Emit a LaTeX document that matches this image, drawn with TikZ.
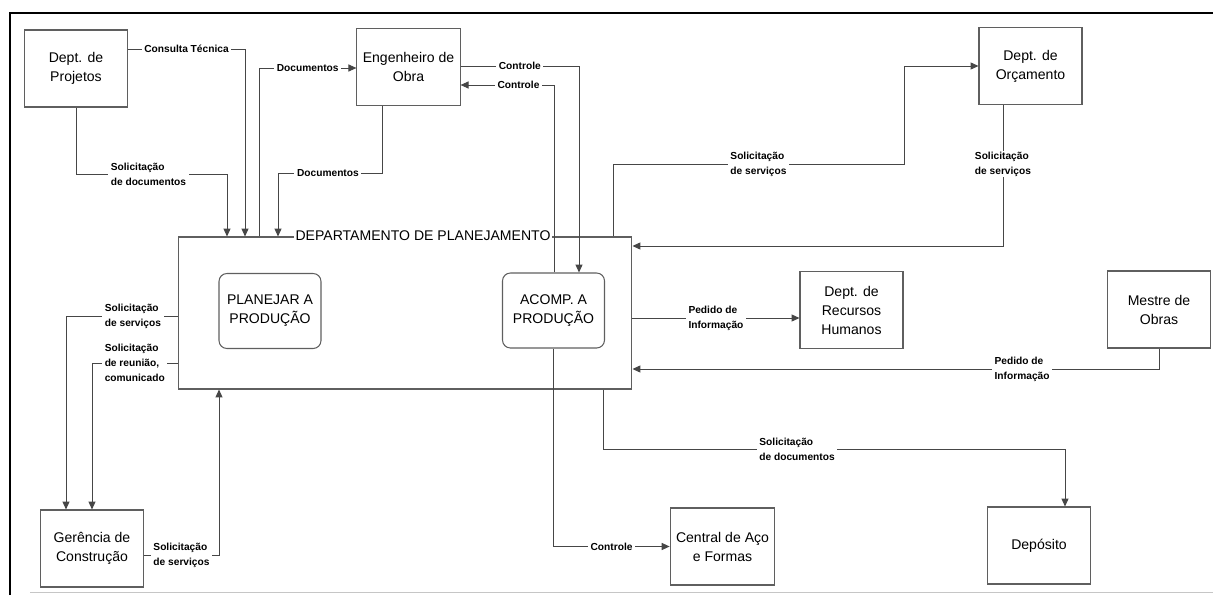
\documentclass[tikz,border=0pt]{standalone}
\usepackage{fontspec}
\setmainfont{Liberation Sans}
\usetikzlibrary{arrows.meta}
\definecolor{LineGray}{RGB}{70,70,70}
\definecolor{BoxGray}{RGB}{95,95,95}

\tikzset{
  unit/.style={draw=BoxGray,line width=0.6pt,minimum width=2.06cm,minimum height=1.54cm,
    align=center,font=\fontsize{8}{10.8}\selectfont},
  task/.style={unit,rounded corners=4.5pt,minimum width=2.04cm,minimum height=1.5cm},
  flow/.style={draw=LineGray,line width=0.5pt,-{Triangle[length=4.5pt,width=4pt]}},
  lbl/.style={fill=white,inner xsep=1.5pt,inner ysep=0.5pt,align=left,
    font=\fontsize{5.8}{8.5}\selectfont\bfseries},
}

\begin{document}
\begin{tikzpicture}[x=0.02cm,y=-0.02cm]
\useasboundingbox (0,0) rectangle (1213,595);
\draw[line width=1.1pt] (10,595) -- (10,13) -- (1213,13);
\draw[gray!45,line width=0.4pt] (30,592) -- (1213,592);

\node[unit,minimum width=9.08cm,minimum height=3.04cm] (dept) at (405,313) {};
\node[fill=white,inner sep=1pt,font=\fontsize{8}{10}\selectfont] (depttitle) at (423,236) {DEPARTAMENTO DE PLANEJAMENTO};
\node[task] (plan) at (270,311) {PLANEJAR A\\PRODUÇÃO};
\node[task] (acomp) at (553.5,310.5) {ACOMP. A\\PRODUÇÃO};

\foreach \nm/\x/\y/\txt in {proj/76/68.5/{Dept. de\\Projetos}, eng/408.5/67/{Engenheiro de\\Obra},
    orc/1030.5/66/{Dept. de\\Orçamento}, rh/851.5/310/{Dept. de\\Recursos\\Humanos},
    mestre/1159/309.5/{Mestre de\\Obras}, ger/92/548.5/{Gerência de\\Construção},
    central/722.5/546.5/{Central de Aço\\e Formas}, depo/1039/545.5/{Depósito}}
  \node[unit] (\nm) at (\x,\y) {\txt};

\draw[flow] (proj.east |- 0,49) -| node[lbl,pos=0.25] {Consulta Técnica} (dept.north -| 245,0);
\draw[flow] (proj.south) |- node[lbl,pos=0.74] {Solicitação\\de documentos} (227,174) -- (dept.north -| 227,0);
\draw[flow] (dept.north -| 259,0) |- node[lbl,pos=0.75] {Documentos} (eng.west |- 0,68);
\draw[flow] (eng.south -| 382,0) |- node[lbl,pos=0.76] {Documentos} (278,173) -- (dept.north -| 278,0);
\draw[flow] (eng.east |- 0,66) -| node[lbl,pos=0.25] {Controle} (acomp.north -| 579,0);
\draw[flow] (acomp.north -| 554,0) |- node[lbl,pos=0.69] {Controle} (eng.east |- 0,85);
\draw[flow] (dept.north -| 613,0) |- node[lbl,pos=0.75] {Solicitação\\de serviços} (904,164) |- (orc.west |- 0,66);
\draw[flow] (orc.south -| 1003,0) |- node[lbl,pos=0.21] {Solicitação\\de serviços} (dept.east |- 0,246);
\draw[flow] (dept.east |- 0,318) -- node[lbl] {Pedido de\\Informação} (rh.west |- 0,318);
\draw[flow] (mestre.south) |- node[lbl,pos=0.63] {Pedido de\\Informação} (dept.east |- 0,369);
\draw[flow] (dept.south -| 603,0) |- node[lbl,pos=0.71] {Solicitação\\de documentos} (1065,449) -- (depo.north -| 1065,0);
\draw[flow] (acomp.south) |- node[lbl,pos=0.75] {Controle} (central.west);
\draw[flow] (ger.east |- 0,555) -| node[lbl,pos=0.25] {Solicitação\\de serviços} (dept.south -| 219,0);
\draw[flow] (dept.west |- 0,316) -| node[lbl,pos=0.2] {Solicitação\\de serviços} (ger.north -| 66,0);
\draw[flow] (dept.west |- 0,363) -| node[lbl,pos=0.25] {Solicitação\\de reunião,\\comunicado} (ger.north -| 92,0);
\end{tikzpicture}
\end{document}
